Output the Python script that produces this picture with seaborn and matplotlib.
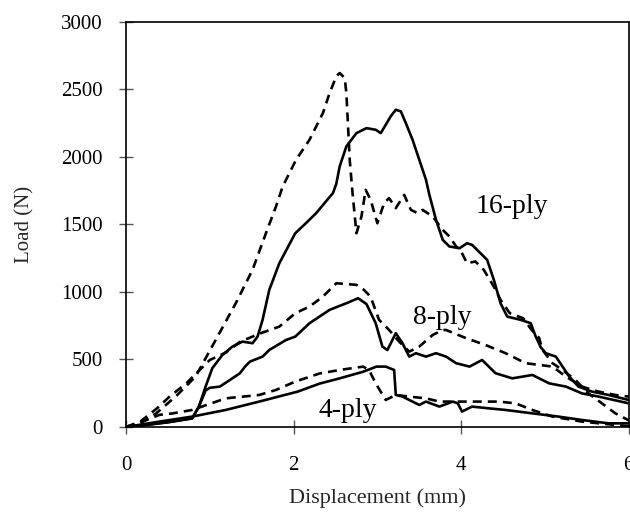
import pandas as pd
import matplotlib
matplotlib.use("Agg")
import matplotlib.pyplot as plt
import seaborn as sns

# Load-displacement curves (x in mm, y in N)
s16_x = [0, 0.3, 0.5, 0.7, 0.79, 0.87, 0.95, 1.03, 1.15, 1.27, 1.39, 1.51, 1.57, 1.63, 1.71, 1.83,
         2.02, 2.15, 2.27, 2.40, 2.47, 2.51, 2.55, 2.63, 2.75, 2.87, 2.98, 3.04, 3.10, 3.16, 3.22,
         3.28, 3.34, 3.42, 3.50, 3.58, 3.62, 3.70, 3.78, 3.86, 3.98, 4.07, 4.13, 4.19, 4.31, 4.39,
         4.47, 4.55, 4.71, 4.83, 4.89, 4.95, 5.01, 5.13, 5.21, 5.29, 5.40, 5.56, 5.76, 6.0]
s16_y = [0, 20, 35, 55, 64, 151, 299, 435, 533, 595, 632, 620, 669, 793, 1015, 1212,
         1434, 1510, 1583, 1680, 1731, 1800, 1928, 2077, 2175, 2212, 2200, 2175, 2237, 2300, 2348,
         2336, 2249, 2126, 1978, 1830, 1720, 1533, 1385, 1336, 1323, 1360, 1348, 1311, 1237, 1089,
         916, 817, 793, 768, 669, 590, 546, 521, 447, 373, 299, 262, 237, 200]

d16_x = [0, 0.17, 0.36, 0.6, 0.83, 1.07, 1.31, 1.51, 1.67, 1.79, 1.87, 2.03, 2.19, 2.35, 2.43,
         2.51, 2.55, 2.61, 2.63, 2.65, 2.67, 2.70, 2.75, 2.81, 2.86, 2.92, 3.0, 3.08, 3.14, 3.22,
         3.32, 3.40, 3.48, 3.54, 3.66, 3.78, 3.86, 3.94, 3.99, 4.07, 4.17, 4.27, 4.39, 4.47, 4.58,
         4.74, 4.84, 4.93, 4.97, 5.09, 5.21, 5.36, 5.52, 5.68, 5.84, 6.0]
d16_y = [0, 30, 101, 230, 373, 644, 916, 1163, 1434, 1632, 1780, 1978, 2126, 2323, 2472,
         2595, 2620, 2583, 2472, 2225, 1978, 1756, 1434, 1558, 1755, 1681, 1508, 1657, 1694, 1620,
         1718, 1607, 1583, 1607, 1558, 1459, 1410, 1336, 1311, 1212, 1225, 1163, 1039, 941, 842,
         805, 719, 660, 571, 472, 422, 349, 249, 175, 101, 49]

s8_x = [0, 0.3, 0.5, 0.7, 0.79, 0.87, 0.95, 1.0, 1.12, 1.24, 1.36, 1.42, 1.48, 1.63, 1.71, 1.91,
        2.02, 2.19, 2.43, 2.63, 2.77, 2.87, 2.94, 2.98, 3.06, 3.12, 3.22, 3.30, 3.38, 3.46, 3.58,
        3.70, 3.82, 3.94, 4.10, 4.25, 4.41, 4.61, 4.85, 5.05, 5.25, 5.44, 5.64, 6.0]
s8_y = [0, 20, 35, 55, 64, 151, 270, 290, 299, 348, 398, 447, 484, 521, 570, 644,
        669, 768, 867, 916, 953, 910, 820, 768, 595, 570, 694, 620, 521, 546, 521,
        546, 521, 472, 447, 496, 398, 360, 385, 323, 299, 249, 225, 175]

d8_x = [0, 0.17, 0.37, 0.52, 0.72, 0.88, 1.0, 1.19, 1.36, 1.59, 1.83, 2.02, 2.19, 2.35, 2.51,
        2.75, 2.84, 2.92, 3.02, 3.14, 3.26, 3.38, 3.50, 3.66, 3.78, 3.82, 4.06, 4.29, 4.53, 4.77,
        5.09, 5.25, 5.44, 5.64, 5.84, 6.0]
d8_y = [0, 40, 138, 225, 323, 422, 496, 550, 630, 690, 743, 842, 891, 965, 1064,
        1052, 1015, 963, 793, 718, 632, 558, 595, 681, 718, 718, 657, 607, 546, 472,
        447, 373, 299, 262, 237, 225]

s4_x = [0, 0.4, 0.79, 1.19, 1.59, 2.05, 2.31, 2.55, 2.83, 2.99, 3.10, 3.20, 3.22, 3.30, 3.42,
        3.50, 3.58, 3.74, 3.90, 3.96, 4.01, 4.13, 4.33, 4.53, 4.85, 5.16, 5.44, 5.76, 6.0]
s4_y = [0, 40, 77, 126, 188, 262, 321, 360, 409, 447, 447, 422, 237, 225, 188,
        163, 188, 151, 188, 175, 114, 151, 138, 126, 101, 77, 52, 27, 27]

d4_x = [0, 0.2, 0.4, 0.55, 0.79, 1.19, 1.59, 1.79, 2.02, 2.31, 2.55, 2.83, 2.90, 2.98, 3.10,
        3.22, 3.38, 3.58, 3.74, 3.94, 4.21, 4.45, 4.65, 4.85, 5.09, 5.44, 6.0]
d4_y = [0, 40, 90, 100, 126, 212, 237, 274, 336, 396, 422, 447, 422, 323, 200,
        237, 225, 212, 188, 188, 188, 188, 175, 126, 77, 40, 5]

labels = ["16-ply", "8-ply", "4-ply"]
label_x = [4.61, 3.77, 2.65]
label_y = [1585, 763, 74]

sns.set_theme(style="ticks")
plt.rcParams['font.family'] = ['Liberation Serif', 'DejaVu Serif']

fig = plt.figure(figsize=(6.3, 5.16), dpi=100)
ax = fig.add_axes([0.2, 0.1725, 0.798, 0.7855])

curves = [(s16_x, s16_y, "-"), (d16_x, d16_y, "--"),
          (s8_x, s8_y, "-"), (d8_x, d8_y, "--"),
          (s4_x, s4_y, "-"), (d4_x, d4_y, "--")]
for xs, ys, ls in curves:
    line_df = pd.DataFrame({"x": xs, "y": ys})
    sns.lineplot(data=line_df, x="x", y="y", sort=False, estimator=None, ax=ax,
                 color="black", linewidth=1.9, linestyle=ls)
for ln in ax.lines:
    if ln.get_linestyle() == "--":
        ln.set_dashes((3.4, 2.3))
    ln.set_solid_capstyle("round")
    ln.set_solid_joinstyle("round")

for txt, tx, ty in zip(labels, label_x, label_y):
    ax.text(tx, ty, txt, ha="center", va="baseline", fontsize=20, color="black")

ax.set_xlim(0, 6)
ax.set_ylim(0, 3000)
ax.set_xticks([0, 2, 4, 6])
ax.set_yticks(range(0, 3001, 500))
ax.tick_params(axis="both", direction="inout", length=9.5, width=1, color="#555555",
               labelsize=15, labelcolor="black")
ax.tick_params(axis="y", pad=12)
ax.tick_params(axis="x", pad=16)
for sp in ax.spines.values():
    sp.set_visible(True)
    sp.set_color("black")
    sp.set_linewidth(1.2)

ax.set_xlabel("Displacement (mm)", fontsize=16, labelpad=10)
ax.set_ylabel("Load (N)", fontsize=15, labelpad=19)

fig.savefig("out.png", dpi=100)
